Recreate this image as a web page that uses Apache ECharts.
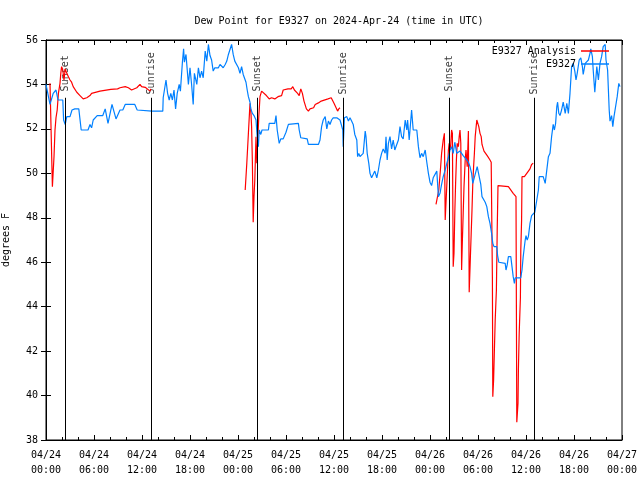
<!DOCTYPE html>
<html>
<head>
<meta charset="utf-8">
<script src="https://cdn.jsdelivr.net/npm/echarts@6/dist/echarts.min.js"></script>
<style>html,body{margin:0;padding:0;background:#fff}#c{width:640px;height:480px}</style>
</head>
<body>
<div id="c"></div>
<script>
// Hours since 2024-04-24 00:00 UTC
const blueHours = [0,0.5,0.9,1.25,1.5,2.1,2.2,2.4,2.6,3.0,3.25,3.6,4.1,4.4,5.25,5.5,5.7,5.9,6.4,7.1,7.4,7.75,8.25,8.75,9.25,9.6,9.9,11.1,11.4,13.25,14.6,14.65,15.0,15.2,15.4,15.6,15.8,16.0,16.2,16.4,16.65,16.8,17.05,17.2,17.3,17.5,17.6,17.8,18.0,18.2,18.4,18.55,18.85,19.05,19.25,19.45,19.65,19.9,20.1,20.3,20.5,20.7,20.9,21.1,21.55,21.75,22.15,22.4,22.6,22.8,23.2,23.4,23.6,24.05,24.25,
24.45,24.65,24.9,25.0,25.15,25.3,25.5,25.6,25.8,26.0,26.25,26.4,26.55,26.65,26.85,27.0,27.8,27.9,28.6,28.75,28.9,29.15,29.35,29.65,30.0,30.3,30.5,31.55,31.65,31.85,32.65,32.8,34.05,34.25,34.45,34.65,34.9,35.1,35.3,35.5,35.7,35.9,36.35,36.75,37.1,37.15,37.3,37.6,37.8,38.0,38.2,38.4,38.6,38.85,38.95,39.1,39.25,39.65,39.9,40.0,40.15,40.35,40.5,40.7,40.9,41.1,41.35,41.55,41.75,41.95,42.15,42.4,42.5,42.65,42.8,43.0,43.2,43.4,43.6,43.85,44.05,44.25,44.45,44.65,44.9,45.1,45.2,45.4,45.5,45.7,45.9,46.35,46.55,46.75,46.95,47.15,47.4,47.6,47.8,48.0,
48.2,48.4,48.6,48.85,49.05,49.25,49.45,49.65,49.9,50.1,50.3,50.5,50.7,50.9,51.1,51.35,51.55,51.75,51.95,52.15,52.6,52.8,53.0,53.2,53.35,53.6,53.9,54.15,54.35,54.5,54.65,54.9,55.1,55.3,55.5,55.7,55.85,56.0,56.35,56.45,56.6,56.75,57.4,57.5,57.65,57.8,58.1,58.25,58.4,58.55,58.65,59.35,59.5,59.65,59.9,60.0,60.15,60.3,60.5,60.7,60.9,61.1,61.35,61.55,61.65,61.9,62.15,62.4,62.65,62.8,63.0,63.2,63.4,63.55,63.7,63.85,63.95,64.1,64.25,64.45,64.65,64.9,65.1,65.3,65.5,65.6,65.7,65.9,66.1,66.25,66.4,66.65,66.85,67.05,67.15,67.4,67.6,67.8,68.0,68.1,68.3,68.4,68.6,68.85,69.05,69.25,69.45,69.65,69.9,70.0,70.2,70.4,70.5,70.7,70.85,71.0,71.2,71.4,71.6,71.75];
const blueValues = [54.0,53.1,53.6,53.75,53.3,53.3,52.4,52.2,52.55,52.55,52.85,52.9,52.9,51.95,51.95,52.2,52.05,52.4,52.6,52.6,52.9,52.25,53.1,52.45,52.85,52.85,53.1,53.1,52.85,52.8,52.8,53.4,54.2,53.6,53.3,53.6,53.3,53.75,52.9,53.6,54.0,53.7,55.0,55.6,55.0,55.35,54.9,54.0,54.75,54.0,53.1,54.5,54.0,54.75,54.3,54.6,54.3,55.5,55.05,55.8,55.3,55.1,54.6,54.75,54.75,54.9,54.75,54.9,55.05,55.35,55.8,55.35,55.05,54.75,54.5,
54.8,54.45,54.5,54.1,53.75,53.45,53.2,52.9,52.7,52.6,52.4,51.65,51.2,51.95,51.75,51.95,51.95,52.25,52.25,52.6,51.95,51.35,51.55,51.55,51.85,52.2,52.25,52.25,51.95,51.6,51.55,51.3,51.3,51.5,52.1,52.4,52.55,52.0,52.35,52.2,52.4,52.5,52.5,52.4,51.95,51.2,52.5,52.55,52.35,52.5,52.35,52.2,51.75,51.5,50.75,50.9,50.75,50.9,51.9,51.65,50.9,50.45,50.0,49.8,49.8,50.1,49.8,50.15,50.6,50.9,51.1,50.9,51.65,50.6,51.35,51.65,51.1,51.5,51.05,51.05,51.5,52.1,51.65,51.55,52.4,51.95,52.4,51.5,51.95,52.85,51.95,51.95,51.2,50.7,50.9,50.75,51.05,50.5,50.0,49.6,
49.45,49.8,49.85,50.1,48.95,49.1,49.5,49.85,50.15,50.45,50.7,51.05,51.2,50.9,51.4,50.9,50.9,51.0,50.9,50.8,50.6,50.5,50.3,50.0,49.55,49.6,50.3,49.85,49.5,48.95,49.0,48.7,48.5,48.05,47.75,47.3,46.85,46.7,46.7,46.3,46.0,45.95,45.95,45.65,45.88,46.25,46.25,45.8,45.35,45.05,45.3,45.3,45.65,46.25,47.0,47.2,47.0,47.15,47.75,48.1,48.1,48.25,48.8,49.25,49.85,49.9,49.85,49.55,49.55,50.75,50.9,51.65,52.2,51.95,52.25,53.0,53.2,52.7,52.6,52.85,53.2,52.7,53.15,52.7,53.6,54.2,54.8,54.95,54.6,54.2,54.5,55.1,55.2,54.8,54.45,54.95,54.9,55.1,55.4,55.6,55.25,54.65,53.65,54.8,54.2,54.95,55.25,55.7,55.8,55.1,54.65,52.85,52.35,52.6,52.1,52.55,53.0,53.45,54.05,53.9];

// null marks a gap in the analysis series
const redHours = [0.5,0.625,0.8,0.9,1.0,1.125,1.25,1.4,1.55,1.75,1.85,1.95,2.1,2.25,2.4,2.6,2.8,3.0,3.2,3.4,3.85,4.25,4.65,5.1,5.5,5.7,6.75,8.1,8.95,9.25,9.9,10.3,10.7,11.35,11.75,11.95,12.4,12.65,13.0,13.1,
18.0,
24.9,25.0,25.1,25.3,25.5,25.6,25.7,25.8,25.9,26.0,26.1,26.25,26.35,26.45,26.6,26.75,26.95,27.15,27.55,27.9,28.2,28.6,29.0,29.45,29.65,30.25,30.65,30.85,31.05,31.45,31.65,31.85,32.05,32.25,32.55,32.8,33.0,33.45,33.65,34.05,34.4,35.25,35.65,36.0,36.45,36.6,36.75,
42.0,
48.75,48.9,49.1,49.3,49.45,49.65,49.8,49.9,50.15,50.3,50.4,50.55,50.7,50.8,50.9,51.0,51.1,51.2,51.3,51.4,51.55,51.65,51.75,51.85,51.95,52.05,52.15,52.25,52.4,52.5,52.65,52.8,52.9,53.05,53.15,53.25,53.35,53.45,53.55,53.65,53.85,54.0,54.1,54.25,54.4,54.5,54.7,54.75,55.0,55.15,55.35,55.5,55.65,55.8,55.85,55.95,56.05,56.15,56.3,56.4,56.5,56.75,57.8,58.0,58.4,58.75,58.8,58.85,59.0,59.05,59.15,59.3,59.35,59.45,59.5,59.8,60.3,60.5,60.7,60.9];
const redValues = [54.05,54.05,49.4,49.4,50.75,51.95,52.5,52.85,53.6,54.05,54.5,54.8,54.65,54.2,54.7,54.5,54.35,54.2,54.1,53.9,53.65,53.5,53.35,53.4,53.5,53.6,53.7,53.78,53.8,53.85,53.9,53.85,53.75,53.85,54.0,53.9,53.87,53.8,53.7,53.8,
null,
49.25,49.25,50.45,51.8,53.15,52.85,52.1,50.45,47.8,48.95,49.7,51.65,50.45,51.35,52.55,53.45,53.7,53.65,53.5,53.35,53.4,53.35,53.45,53.5,53.75,53.8,53.8,53.9,53.75,53.6,53.5,53.8,53.6,53.25,52.9,52.8,52.9,52.95,53.1,53.17,53.25,53.35,53.4,53.15,52.8,52.9,52.95,
null,
48.6,48.6,49.25,50.15,50.9,51.5,51.8,47.9,49.85,51.05,51.35,51.05,51.95,51.8,45.8,46.4,48.2,49.55,50.6,51.35,51.2,51.65,51.95,51.35,45.65,47.0,48.2,49.4,50.6,51.05,50.3,51.9,44.65,46.25,47.3,48.35,49.55,50.3,50.9,51.65,52.4,52.35,52.1,51.8,51.65,51.3,51.3,51.0,51.0,50.8,50.75,50.6,50.5,45.3,39.95,40.7,42.05,43.4,44.75,47.4,49.45,49.45,49.4,49.3,49.1,48.95,43.9,38.8,39.65,41.15,42.8,44.4,46.55,47.9,49.85,49.85,50.1,50.2,50.4,50.45];

const sunHours = [2.375, 13.2, 26.4, 37.17, 50.4, 61.04];
const sunLabels = ['Sunset', 'Sunrise', 'Sunset', 'Sunrise', 'Sunset', 'Sunrise'];

const yTicks = {min: 38, max: 56, interval: 2};
const xTicks = {min: 0, max: 72, interval: 6};

const FONT = 'DejaVu Sans Mono';
const zip = (a, b) => a.map((t, i) => [t, b[i]]);

function xLabel(h) {
  if (h % 6 !== 0) return '';
  const day = 24 + Math.floor(h / 24);
  const hh = h % 24;
  return '04/' + day + '\n' + (hh < 10 ? '0' : '') + hh + ':00';
}

const chart = echarts.init(document.getElementById('c'), null, {renderer: 'canvas'});
const axisCommon = {
  axisLine: {lineStyle: {color: '#000', width: 1}},
  splitLine: {show: false},
};
chart.setOption({
  animation: false,
  backgroundColor: '#fff',
  title: {
    text: 'Dew Point for E9327 on 2024-Apr-24 (time in UTC)',
    left: 334, top: 11, textAlign: 'center',
    textStyle: {fontFamily: FONT, fontSize: 10, fontWeight: 'normal', color: '#000'}
  },
  legend: {
    data: ['E9327 Analysis', 'E9327'],
    orient: 'vertical', right: 26, top: 40, align: 'right',
    icon: 'rect', itemWidth: 28, itemHeight: 1.5, itemGap: 1,
    textStyle: {fontFamily: FONT, fontSize: 10, color: '#000', lineHeight: 12}
  },
  grid: {left: 46, right: 18, top: 40, bottom: 40, containLabel: false, outerBoundsMode: 'none',
    show: true, borderColor: '#000', borderWidth: 1, backgroundColor: 'transparent'},
  xAxis: [
    Object.assign({type: 'value', min: xTicks.min, max: xTicks.max, interval: xTicks.interval,
      axisTick: {inside: true, length: 5, lineStyle: {color: '#000'}},
      minorTick: {show: true, splitNumber: 3, length: 3, lineStyle: {color: '#000'}},
      axisLabel: {formatter: xLabel, fontFamily: FONT, fontSize: 10, color: '#000', lineHeight: 15, margin: 8, hideOverlap: false}
    }, axisCommon),
    Object.assign({type: 'value', position: 'top', min: xTicks.min, max: xTicks.max, interval: xTicks.interval,
      axisTick: {inside: true, length: 5, lineStyle: {color: '#000'}},
      minorTick: {show: true, splitNumber: 3, length: 3, lineStyle: {color: '#000'}},
      axisLabel: {show: false}
    }, axisCommon)
  ],
  yAxis: [
    Object.assign({type: 'value', min: yTicks.min, max: yTicks.max, interval: yTicks.interval,
      name: 'degrees F', nameLocation: 'middle', nameGap: 35,
      nameTextStyle: {fontFamily: FONT, fontSize: 10, color: '#000'},
      axisTick: {inside: true, length: 5, lineStyle: {color: '#000'}},
      axisLabel: {fontFamily: FONT, fontSize: 10, color: '#000', margin: 8}
    }, axisCommon),
    Object.assign({type: 'value', position: 'right', min: yTicks.min, max: yTicks.max, interval: yTicks.interval,
      axisTick: {inside: true, length: 5, lineStyle: {color: '#000'}},
      axisLabel: {show: false}
    }, axisCommon)
  ],
  series: [
    {
      name: 'E9327 Analysis', type: 'line', data: zip(redHours, redValues),
      showSymbol: false, symbol: 'none', connectNulls: false,
      color: '#ff0000', lineStyle: {color: '#ff0000', width: 1.2}, silent: true
    },
    {
      name: 'E9327', type: 'line', data: zip(blueHours, blueValues),
      showSymbol: false, symbol: 'none',
      color: '#0080ff', lineStyle: {color: '#0080ff', width: 1.2}, silent: true
    },
    {
      name: 'sun', type: 'scatter', silent: true,
      symbolSize: 1, itemStyle: {color: 'rgba(0,0,0,0)'},
      data: sunHours.map((t, i) => ({value: [t, 54.5], name: sunLabels[i]})),
      label: {show: true, position: 'inside', rotate: 90, formatter: '{b}', fontFamily: FONT, fontSize: 10, color: '#000'},
      markLine: {
        silent: true, symbol: ['none', 'none'], animation: false,
        lineStyle: {color: '#000', width: 1, type: 'solid'},
        label: {show: false},
        data: sunHours.map(t => [{coord: [t, 38]}, {coord: [t, 53.4]}])
      }
    }
  ]
});
</script>
</body>
</html>
